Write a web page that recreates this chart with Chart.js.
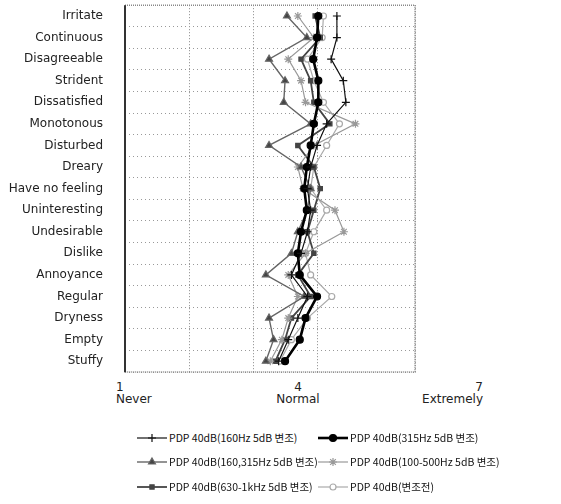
<!DOCTYPE html>
<html>
<head>
<meta charset="utf-8">
<script src="https://cdn.jsdelivr.net/npm/chart.js@4.4.1/dist/chart.umd.min.js"></script>
<style>
  body { margin: 0; background: #fff; font-family: "DejaVu Sans", sans-serif; color: #222; }
  #wrap { position: relative; width: 561px; height: 504px; }
  #chart { position: absolute; left: 0; top: 0; }
  .xt { position: absolute; top: 381px; font-size: 12px; line-height: 12px; }
  .leg { position: absolute; font-family: "Noto Sans CJK KR", sans-serif; font-size: 10.5px; line-height: 14px; white-space: nowrap; display: flex; align-items: center; color: #111; }
  .leg canvas { margin-right: 2px; }
</style>
</head>
<body>
<div id="wrap">
  <canvas id="chart" width="561" height="380"></canvas>
</div>
<script>
// adjectives, top to bottom
const categories = ["Irritate", "Continuous", "Disagreeable", "Strident", "Dissatisfied", "Monotonous",
  "Disturbed", "Dreary", "Have no feeling", "Uninteresting", "Undesirable", "Dislike", "Annoyance",
  "Regular", "Dryness", "Empty", "Stuffy"];

const seriesNames = ["PDP 40dB(160Hz 5dB 변조)", "PDP 40dB(315Hz 5dB 변조)", "PDP 40dB(160,315Hz 5dB 변조)",
  "PDP 40dB(100-500Hz 5dB 변조)", "PDP 40dB(630-1kHz 5dB 변조)", "PDP 40dB(변조전)"];

const mod160 =    [4.31, 4.31, 4.22, 4.41, 4.45, 4.15, 4.00, 3.90, 3.85, 3.90, 3.85, 3.75, 3.60, 3.85, 3.70, 3.55, 3.40];
const mod315 =    [4.02, 4.00, 3.94, 4.02, 4.02, 3.95, 3.90, 3.84, 3.80, 3.84, 3.75, 3.70, 3.73, 4.00, 3.82, 3.73, 3.50];
const mod160315 = [3.53, 3.84, 3.25, 3.50, 3.48, 3.90, 3.25, 3.75, 3.90, 3.85, 3.70, 3.60, 3.20, 3.80, 3.25, 3.32, 3.20];
const mod100500 = [3.70, 3.95, 3.55, 3.75, 3.82, 4.60, 3.95, 3.70, 3.78, 4.28, 4.42, 3.82, 3.55, 3.70, 3.55, 3.45, 3.27];
const mod6301k =  [3.97, 4.05, 3.75, 3.90, 3.95, 4.20, 3.70, 3.95, 4.05, 3.95, 3.85, 3.95, 3.70, 3.90, 3.60, 3.50, 3.35];
const original =  [4.10, 4.08, 3.85, 3.95, 4.10, 4.35, 4.15, 3.95, 3.90, 4.15, 3.95, 3.82, 3.90, 4.23, 3.85, 3.60, 3.42];

const xTickLabels = [["1", "Never"], ["4", "Normal"], ["7", "Extremely"]];

const styles = [
  { color: "#111", width: 1.2, point: "cross", radius: 4, fill: "#111" },
  { color: "#000", width: 2.6, point: "circle", radius: 3.5, fill: "#000" },
  { color: "#666", width: 1.4, point: "triangle", radius: 4, fill: "#444" },
  { color: "#999", width: 1.2, point: "star", radius: 4, fill: "#999" },
  { color: "#444", width: 1.8, point: "rect", radius: 3, fill: "#444" },
  { color: "#aaa", width: 1.2, point: "circle", radius: 3, fill: "#fff" },
];
const values = [mod160, mod315, mod160315, mod100500, mod6301k, original];

const frame = {
  id: "frame",
  afterDraw(chart) {
    const { ctx, chartArea: a } = chart;
    ctx.save();
    ctx.setLineDash([1, 1]);
    ctx.strokeStyle = "#888";
    ctx.lineWidth = 1.5;
    ctx.strokeRect(a.left, a.top, a.right - a.left, a.bottom - a.top);
    ctx.setLineDash([]);
    ctx.strokeStyle = "#333";
    ctx.lineWidth = 2;
    ctx.beginPath();
    ctx.moveTo(a.left, a.top);
    ctx.lineTo(a.left, a.bottom);
    ctx.stroke();
    ctx.restore();
  }
};

new Chart(document.getElementById("chart"), {
  type: "line",
  data: {
    labels: categories,
    datasets: values.map((v, i) => ({
      label: seriesNames[i],
      data: v,
      borderColor: styles[i].color,
      borderWidth: styles[i].width,
      pointStyle: styles[i].point,
      pointRadius: styles[i].radius,
      pointBackgroundColor: styles[i].fill,
      pointBorderColor: styles[i].color,
      pointBorderWidth: 1.2,
      tension: 0,
    })),
  },
  options: {
    indexAxis: "y",
    responsive: false,
    animation: false,
    layout: { padding: { top: 4, right: 146, bottom: 8, left: 0 } },
    scales: {
      x: {
        type: "linear",
        min: 1,
        max: 5.53,
        ticks: { display: false, stepSize: 1 },
        border: { display: false, dash: [1, 2] },
        grid: { color: "#888", lineWidth: 1, drawTicks: false },
        afterFit(scale) { scale.height = 0; scale.paddingLeft = 0; scale.paddingRight = 0; },
      },
      y: {
        type: "category",
        offset: true,
        border: { display: false, dash: [1, 3] },
        grid: { color: "#999", drawTicks: false, offset: true },
        ticks: { color: "#222", padding: 22, autoSkip: false, font: { family: "DejaVu Sans", size: 12 } },
        afterFit(scale) { scale.width = 125; scale.paddingTop = 0; scale.paddingBottom = 0; },
      },
    },
    plugins: { legend: { display: false }, tooltip: { enabled: false } },
  },
  plugins: [frame],
});

// x scale labels under the frame
const wrap = document.getElementById("wrap");
const xPos = [{ left: "116px" }, { left: "298px", transform: "translateX(-50%)", textAlign: "center" }, { right: "78px", textAlign: "right" }];
xTickLabels.forEach((t, i) => {
  const d = document.createElement("div");
  d.className = "xt";
  Object.assign(d.style, xPos[i]);
  d.innerHTML = t[0] + "<br>" + t[1];
  wrap.appendChild(d);
});

// legend, two columns by three rows
const legPos = [[137, 431], [318, 431], [137, 455], [318, 455], [137, 480], [318, 480]];
seriesNames.forEach((name, i) => {
  const d = document.createElement("div");
  d.className = "leg";
  d.style.left = legPos[i][0] + "px";
  d.style.top = legPos[i][1] + "px";
  const c = document.createElement("canvas");
  c.width = 30; c.height = 12;
  const g = c.getContext("2d");
  g.strokeStyle = styles[i].color;
  g.lineWidth = styles[i].width;
  g.beginPath(); g.moveTo(0, 6); g.lineTo(30, 6); g.stroke();
  g.fillStyle = styles[i].fill;
  g.lineWidth = 1.2;
  Chart.helpers.drawPoint(g, { pointStyle: styles[i].point, radius: styles[i].radius, borderWidth: 1.2 }, 15, 6);
  d.appendChild(c);
  d.appendChild(document.createTextNode(name));
  wrap.appendChild(d);
});
</script>
</body>
</html>
